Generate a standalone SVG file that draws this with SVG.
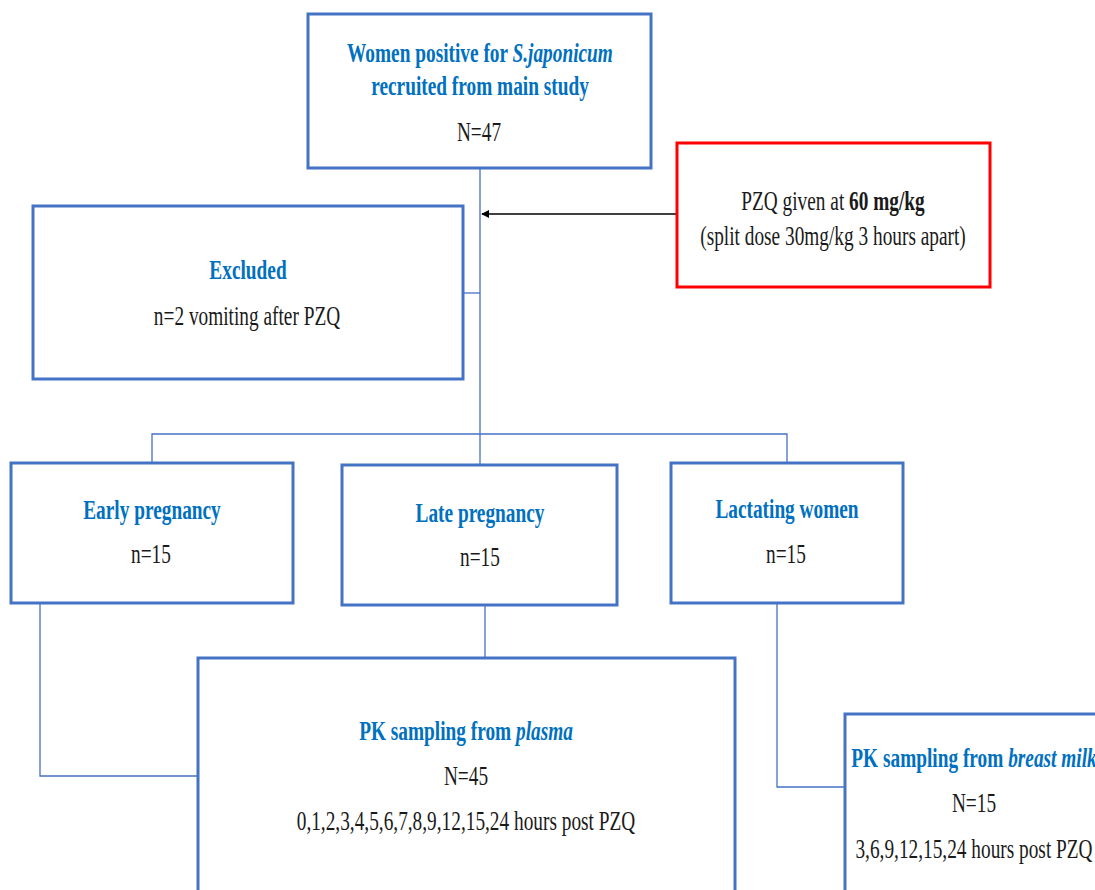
<svg xmlns="http://www.w3.org/2000/svg" width="1095" height="890" viewBox="0 0 1095 890">
<style>
.box{fill:#fff;stroke:#4472C4;stroke-width:3}
.red{fill:#fff;stroke:#FF0000;stroke-width:3}
.t{font-family:"Liberation Serif","Times New Roman",serif;font-size:28px;text-anchor:middle;fill:#1a1a1a}
.h{fill:#0070C0;font-weight:bold}
.conn{stroke:#4472C4;stroke-width:1.3;fill:none}
.arrow{stroke:#000;stroke-width:1.6;fill:none}
</style>
<defs>
<marker id="ah" viewBox="0 0 10 10" refX="9" refY="5" markerWidth="5" markerHeight="5" orient="auto" markerUnits="strokeWidth">
<path d="M0,0 L10,5 L0,10 z" fill="#000"/>
</marker>
</defs>
<rect width="1095" height="890" fill="#fff"/>
<g id="connectors">
<path class="conn" d="M480,168 V465"/>
<path class="conn" d="M463,293 H480"/>
<path class="conn" d="M152,463 V434 H787 V463"/>
<path class="conn" d="M40,603 V776 H198"/>
<path class="conn" d="M485,605 V658"/>
<path class="conn" d="M777,603 V787 H845"/>
<path class="arrow" d="M677,214 H482" marker-end="url(#ah)"/>
</g>
<g id="recruited">
<rect class="box" x="308" y="14" width="343" height="154"/>
<text class="t h" transform="translate(480,62) scale(0.69,1)">Women positive for <tspan font-style="italic">S.japonicum</tspan></text>
<text class="t h" transform="translate(480,95) scale(0.69,1)">recruited from main study</text>
<text class="t" transform="translate(479,141) scale(0.69,1)">N=47</text>
</g>
<g id="pzq">
<rect class="red" x="677" y="143" width="313" height="144"/>
<text class="t" transform="translate(833,210) scale(0.69,1)">PZQ given at <tspan font-weight="bold">60 mg/kg</tspan></text>
<text class="t" transform="translate(833,245) scale(0.69,1)">(split dose 30mg/kg 3 hours apart)</text>
</g>
<g id="excluded">
<rect class="box" x="33" y="206" width="430" height="173"/>
<text class="t h" transform="translate(248,279) scale(0.69,1)">Excluded</text>
<text class="t" transform="translate(247,325) scale(0.69,1)">n=2 vomiting after PZQ</text>
</g>
<g id="early">
<rect class="box" x="11" y="463" width="282" height="140"/>
<text class="t h" transform="translate(152,519) scale(0.69,1)">Early pregnancy</text>
<text class="t" transform="translate(151,563) scale(0.69,1)">n=15</text>
</g>
<g id="late">
<rect class="box" x="342" y="465" width="275" height="140"/>
<text class="t h" transform="translate(480,522) scale(0.69,1)">Late pregnancy</text>
<text class="t" transform="translate(480,566) scale(0.69,1)">n=15</text>
</g>
<g id="lactating">
<rect class="box" x="671" y="463" width="232" height="140"/>
<text class="t h" transform="translate(787,518) scale(0.69,1)">Lactating women</text>
<text class="t" transform="translate(786,563) scale(0.69,1)">n=15</text>
</g>
<g id="plasma">
<rect class="box" x="198" y="658" width="537" height="260"/>
<text class="t h" transform="translate(466,740) scale(0.69,1)">PK sampling from <tspan font-style="italic">plasma</tspan></text>
<text class="t" transform="translate(466,785) scale(0.69,1)">N=45</text>
<text class="t" transform="translate(466,830) scale(0.69,1)">0,1,2,3,4,5,6,7,8,9,12,15,24 hours post PZQ</text>
</g>
<g id="breastmilk">
<rect class="box" x="845" y="714" width="270" height="200"/>
<text class="t h" transform="translate(974,767) scale(0.69,1)">PK sampling from <tspan font-style="italic">breast milk</tspan></text>
<text class="t" transform="translate(974,812) scale(0.69,1)">N=15</text>
<text class="t" transform="translate(974,858) scale(0.69,1)">3,6,9,12,15,24 hours post PZQ</text>
</g>
</svg>
